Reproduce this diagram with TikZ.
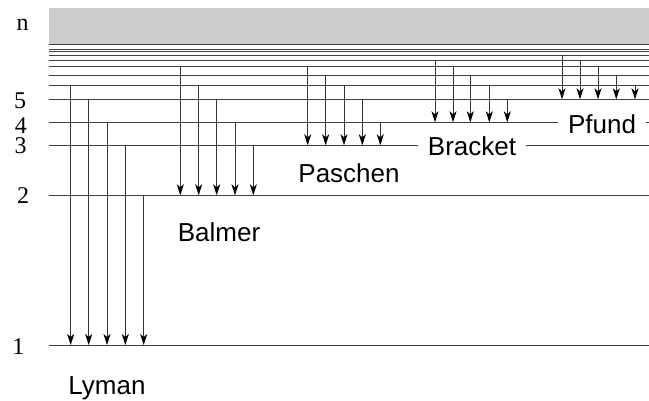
\documentclass[tikz,border=0pt]{standalone}
\usepackage{fontspec}
\setmainfont{Liberation Serif}
\setsansfont{Liberation Sans}
\usetikzlibrary{arrows.meta}
\begin{document}
\begin{tikzpicture}[x=1pt,y=-1pt,
  lvl/.style={draw=black!75,line width=0.9pt},
  trans/.style={draw=black!80,line width=0.9pt,-{Stealth[length=11pt,width=7pt,inset=3pt,color=black]}},
  nlab/.style={anchor=base,inner sep=0pt,text height=14pt,text depth=0pt,font=\fontsize{24}{26}\selectfont\rmfamily},
  series/.style={anchor=base,inner sep=0pt,font=\fontsize{26}{30}\selectfont\sffamily},
  cutlab/.style={series,fill=white,inner xsep=10pt,inner ysep=2pt}]
\useasboundingbox (0,0) rectangle (649,401);
% continuum band
\fill[black!20] (49,7.7) rectangle (649,44.5);
\coordinate (B0) at (49,44.5);
\coordinate (B1) at (649,44.5);
\draw[lvl] (B0) -- (B1);
% levels
\foreach \n/\y in {1/345,2/195.3,3/145.3,4/122.3,5/99.3,6/85,7/75,8/66.7,9/60,10/55.7,11/51.7,12/49.3}{
  \coordinate (L\n) at (49,\y);
  \coordinate (R\n) at (649,\y);
  \draw[lvl] (L\n) -- (R\n);
}
% transitions
\foreach \x/\f/\t in {70.7/6/1,88.7/5/1,107/4/1,125.3/3/1,143.7/2/1,
  180.3/8/2,198.7/6/2,216.7/5/2,235/4/2,253.3/3/2,
  307.7/8/3,325.7/7/3,344/6/3,362.3/5/3,380.3/4/3,
  435/9/4,453/8/4,470.3/7/4,489.3/6/4,507.3/5/4,
  562/10/5,580/9/5,598/8/5,616.3/7/5,635/6/5}{
  \coordinate (X) at (\x,0);
  \draw[trans] (X |- L\f) -- (X |- L\t);
}
% level labels
\node[nlab] (ln) at (22.7,31) {n};
\node[nlab] (l5) at (20,108.5) {5};
\node[nlab] (l4) at (20.8,133.5) {4};
\node[nlab] (l3) at (20.5,154) {3};
\node[nlab] (l2) at (23,204) {2};
\node[nlab] (l1) at (18.3,355) {1};
% series labels
\node[series] (lyman) at (107,394) {Lyman};
\node[series] (balmer) at (219,242) {Balmer};
\node[series] (paschen) at (349,183) {Paschen};
\node[cutlab] (bracket) at (472,156) {Bracket};
\node[cutlab] (pfund) at (602,133.3) {Pfund};
\end{tikzpicture}
\end{document}
